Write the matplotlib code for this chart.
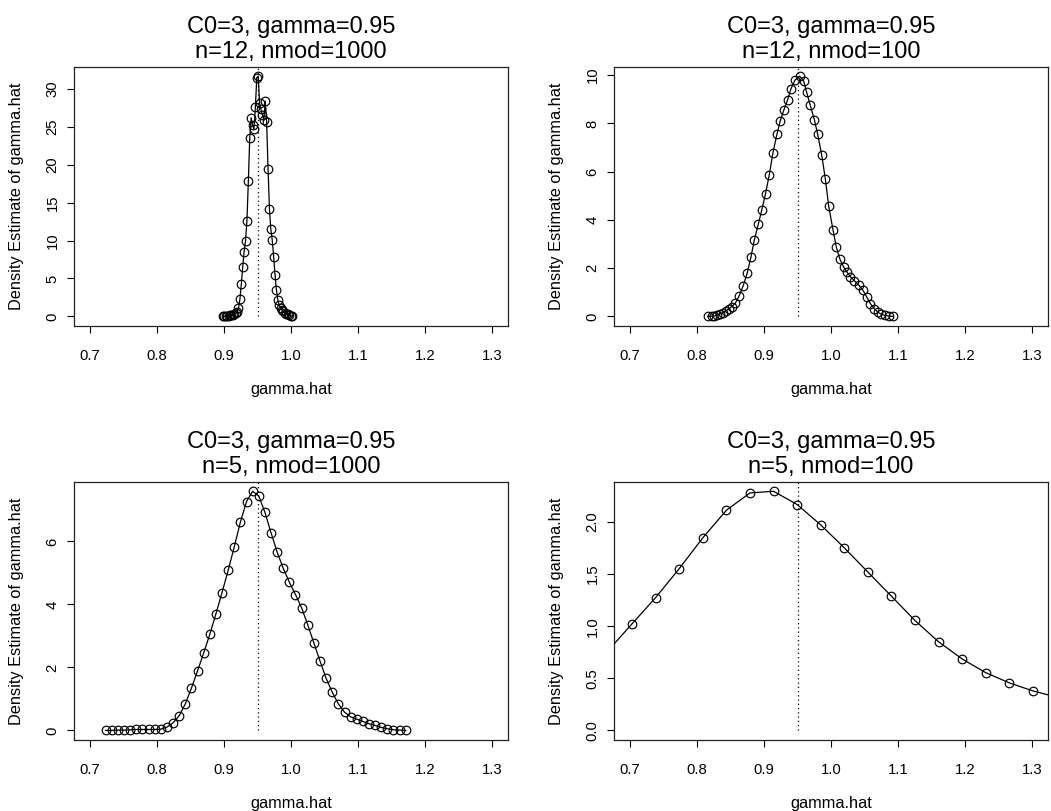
import matplotlib
matplotlib.use("Agg")
import matplotlib.pyplot as plt

plt.rcParams['font.family'] = ['Liberation Sans', 'DejaVu Sans']

W, H = 1051, 811
gamma_true = 0.95

title_line1 = ["C0=3, gamma=0.95", "C0=3, gamma=0.95", "C0=3, gamma=0.95", "C0=3, gamma=0.95"]
title_line2 = ["n=12, nmod=1000", "n=12, nmod=100", "n=5, nmod=1000", "n=5, nmod=100"]
x_label = "gamma.hat"
y_label = "Density Estimate of gamma.hat"

x_ticks = [0.7, 0.8, 0.9, 1.0, 1.1, 1.2, 1.3]
x_ticklabels = ["0.7", "0.8", "0.9", "1.0", "1.1", "1.2", "1.3"]
x_range = (0.7, 1.3)

y_ticks = [[0, 5, 10, 15, 20, 25, 30],
           [0, 2, 4, 6, 8, 10],
           [0, 2, 4, 6],
           [0.0, 0.5, 1.0, 1.5, 2.0]]
y_ticklabels = [["0", "5", "10", "15", "20", "25", "30"],
                ["0", "2", "4", "6", "8", "10"],
                ["0", "2", "4", "6"],
                ["0.0", "0.5", "1.0", "1.5", "2.0"]]

# Panel 1: n=12, nmod=1000
x1 = [0.8985, 0.9006, 0.9027, 0.9048, 0.9069, 0.9090, 0.9111, 0.9132, 0.9153, 0.9174,
      0.9195, 0.9216, 0.9237, 0.9258, 0.9279, 0.9300, 0.9321, 0.9342, 0.9363, 0.9384,
      0.9405, 0.9426, 0.9447, 0.9468, 0.9489, 0.9510, 0.9531, 0.9552, 0.9573, 0.9594,
      0.9615, 0.9636, 0.9657, 0.9678, 0.9699, 0.9720, 0.9741, 0.9762, 0.9783, 0.9804,
      0.9825, 0.9846, 0.9867, 0.9888, 0.9909, 0.9930, 0.9951, 0.9972, 0.9993, 1.0014]
y1 = [0.02, 0.04, 0.06, 0.08, 0.10, 0.13, 0.16, 0.20, 0.28, 0.40,
      0.60, 1.05, 2.25, 4.23, 6.53, 8.56, 9.97, 12.6, 17.8, 23.6,
      26.2, 25.2, 24.7, 27.6, 31.5, 31.7, 28.1, 27.3, 26.6, 25.9,
      28.4, 25.7, 19.5, 14.2, 11.5, 10.06, 7.85, 5.43, 3.44, 2.12,
      1.50, 1.10, 0.85, 0.65, 0.50, 0.38, 0.28, 0.18, 0.10, 0.04]

# Panel 2: n=12, nmod=100
x2 = [0.8161, 0.8216, 0.8256, 0.8296, 0.8341, 0.8385, 0.8425, 0.8470, 0.8515, 0.8570,
      0.8630, 0.8689, 0.8749, 0.8804, 0.8854, 0.8914, 0.8968, 0.9023, 0.9078, 0.9133,
      0.9193, 0.9242, 0.9297, 0.9352, 0.9402, 0.9462, 0.9532, 0.9591, 0.9636, 0.9691,
      0.9751, 0.9801, 0.9860, 0.9915, 0.9965, 1.0030, 1.0080, 1.0134, 1.0189, 1.0239,
      1.0289, 1.0349, 1.0419, 1.0478, 1.0533, 1.0588, 1.0648, 1.0698, 1.0752, 1.0807,
      1.0862, 1.0922]
y2 = [0.00, 0.01, 0.014, 0.041, 0.097, 0.152, 0.221, 0.304, 0.401, 0.539,
      0.858, 1.272, 1.798, 2.448, 3.154, 3.817, 4.426, 5.090, 5.864, 6.777,
      7.552, 8.105, 8.562, 8.976, 9.433, 9.793, 9.959, 9.765, 9.295, 8.741,
      8.160, 7.552, 6.708, 5.712, 4.578, 3.582, 2.863, 2.365, 2.047, 1.840,
      1.646, 1.480, 1.286, 1.079, 0.802, 0.526, 0.318, 0.180, 0.083, 0.041,
      0.014, 0.00]

# Panel 3: n=5, nmod=1000
x3 = [0.7233, 0.7324, 0.7416, 0.7507, 0.7599, 0.7690, 0.7782, 0.7873, 0.7964, 0.8056,
      0.8147, 0.8239, 0.8330, 0.8422, 0.8513, 0.8604, 0.8696, 0.8787, 0.8879, 0.8970,
      0.9062, 0.9153, 0.9244, 0.9336, 0.9427, 0.9519, 0.9610, 0.9702, 0.9793, 0.9884,
      0.9976, 1.0067, 1.0159, 1.0250, 1.0342, 1.0433, 1.0524, 1.0616, 1.0707, 1.0799,
      1.0890, 1.0982, 1.1073, 1.1164, 1.1256, 1.1347, 1.1439, 1.1530, 1.1622, 1.1713]
y3 = [0.00, 0.00, 0.01, 0.01, 0.02, 0.03, 0.03, 0.03, 0.03, 0.04,
      0.105, 0.243, 0.464, 0.844, 1.339, 1.888, 2.457, 3.048, 3.701, 4.376,
      5.083, 5.831, 6.612, 7.266, 7.593, 7.445, 6.928, 6.274, 5.663, 5.146,
      4.703, 4.313, 3.891, 3.353, 2.773, 2.204, 1.656, 1.213, 0.844, 0.580,
      0.432, 0.359, 0.285, 0.211, 0.158, 0.095, 0.053, 0.021, 0.011, 0.00]

# Panel 4: n=5, nmod=100 (first and last values lie just outside the x range)
x4 = [0.6678, 0.7030, 0.7382, 0.7734, 0.8086, 0.8438, 0.8790, 0.9142, 0.9494, 0.9846,
      1.0198, 1.0550, 1.0902, 1.1254, 1.1606, 1.1958, 1.2310, 1.2662, 1.3014, 1.3366]
y4 = [0.77, 1.022, 1.274, 1.551, 1.847, 2.111, 2.277, 2.293, 2.166, 1.971,
      1.751, 1.519, 1.287, 1.054, 0.850, 0.685, 0.554, 0.456, 0.379, 0.32]

xs = [x1, x2, x3, x4]
ys = [y1, y2, y3, y4]

# axes boxes in pixels: (left, top, right, bottom)
boxes = [(74, 66.5, 508, 326), (614, 66.5, 1048, 326),
         (74, 481.7, 508, 740), (614, 481.7, 1048, 740)]

fig = plt.figure(figsize=(W / 100, H / 100), dpi=100)

for i in range(4):
    l, t, r, b = boxes[i]
    ax = fig.add_axes([l / W, 1 - b / H, (r - l) / W, (b - t) / H])
    hpx = b - t
    x, y = xs[i], ys[i]
    ymax = max(yy for xx, yy in zip(x, y) if x_range[0] <= xx <= x_range[1])
    ext = 0.04 * ymax
    ylo, yhi = -ext, ymax + ext
    xext = 0.04 * (x_range[1] - x_range[0])
    ax.set_xlim(x_range[0] - xext, x_range[1] + xext)
    ax.set_ylim(ylo, yhi)

    ax.plot(x, y, color='black', lw=0.9, marker='o', ms=6.2, mfc='none',
            mec='black', mew=0.85, clip_on=True, zorder=3)
    ax.axvline(gamma_true, ymin=(0 - ylo) / (yhi - ylo), ymax=1,
               color='black', lw=0.9, ls=(0, (1, 2.4)), zorder=2)

    ax.set_xticks(x_ticks)
    ax.set_xticklabels(x_ticklabels)
    ax.set_yticks(y_ticks[i])
    ax.set_yticklabels(y_ticklabels[i])
    ax.tick_params(axis='x', direction='out', length=5, width=0.8, pad=11.5,
                   labelsize=10.7, color='black')
    ax.tick_params(axis='y', direction='out', length=5, width=0.8, pad=5.5,
                   labelsize=10.7, color='black', labelrotation=90)
    for lab in ax.get_yticklabels():
        lab.set_va('center')
    for sp in ax.spines.values():
        sp.set_linewidth(0.9)
        sp.set_color('#222222')

    ax.set_xlabel(x_label, fontsize=11.8)
    ax.xaxis.set_label_coords(0.5, -56.0 / hpx)
    ax.set_ylabel(y_label, fontsize=11.8)
    ax.yaxis.set_label_coords(-50.0 / (r - l), 0.5)

    ax.text(0.5, 1 + 33.5 / hpx, title_line1[i], transform=ax.transAxes,
            ha='center', va='baseline', fontsize=17)
    ax.text(0.5, 1 + 8.5 / hpx, title_line2[i], transform=ax.transAxes,
            ha='center', va='baseline', fontsize=17)

fig.savefig("out.png", dpi=100)
